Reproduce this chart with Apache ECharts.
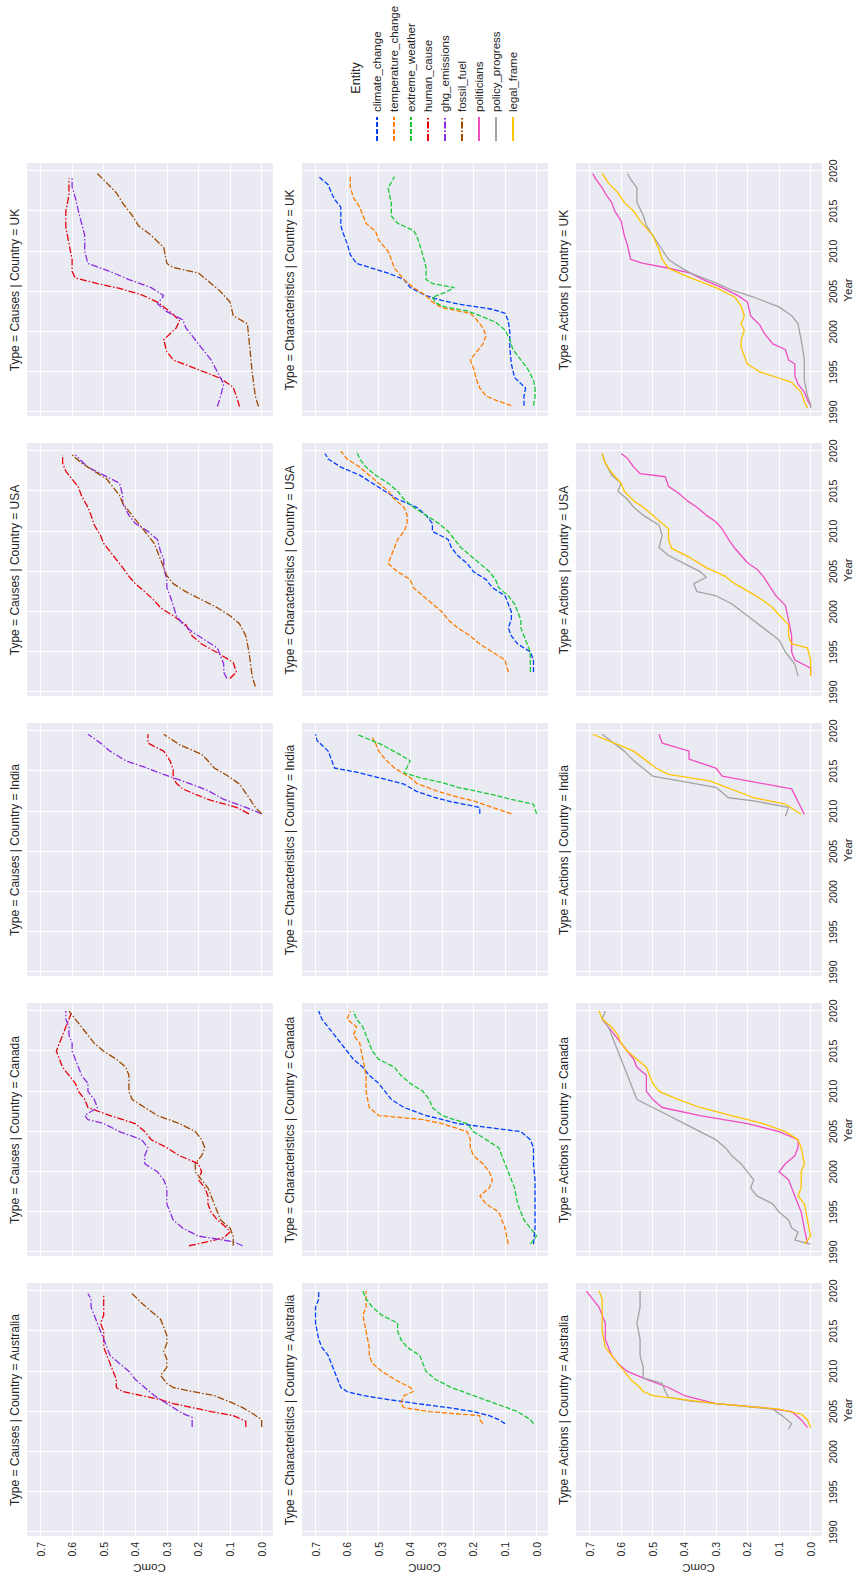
<!DOCTYPE html>
<html>
<head>
<meta charset="utf-8">
<script src="https://cdn.jsdelivr.net/npm/echarts@6/dist/echarts.min.js"></script>
<style>
  html, body { margin: 0; padding: 0; background: #fff; overflow: hidden; width: 857px; height: 1580px; }
  /* the seaborn grid is drawn landscape, then turned a quarter turn to the left like the picture */
  #facet {
    position: absolute; left: 0; top: 0;
    width: 1580px; height: 857px;
    transform-origin: 0 0;
    transform: translateY(1580px) rotate(-90deg);
  }
</style>
</head>
<body>
<div id="facet"></div>
<script>
// facets
var countries = ["Australia", "Canada", "India", "USA", "UK"];
var types = ["Causes", "Characteristics", "Actions"];
var entityNames = ["climate_change", "temperature_change", "extreme_weather",
  "human_cause", "ghg_emissions", "fossil_fuel",
  "politicians", "policy_progress", "legal_frame"];
var entityType = [1, 1, 1, 0, 0, 0, 2, 2, 2];
var entityColors = ["#023eff", "#ff7c00", "#1ac938", "#e8000b", "#8b2be2", "#9f4800", "#f14cc1", "#a3a3a3", "#ffc400"];

// ---- Causes : [year, ComC] ----
var causes_AUS_human = [[2003.1,0.05],[2003.8,0.05],[2004.5,0.09],[2005,0.16],[2005.5,0.22],[2006,0.28],[2006.5,0.32],[2007,0.38],[2007.5,0.44],[2008,0.46],[2009,0.46],[2010,0.47],[2011,0.48],[2012,0.49],[2013,0.5],[2014,0.5],[2015,0.5],[2016,0.51],[2017,0.5],[2018,0.5],[2019,0.5],[2019.7,0.5]];
var causes_AUS_ghg = [[2003.1,0.22],[2004.3,0.22],[2004.6,0.24],[2005,0.26],[2005.5,0.28],[2006,0.3],[2006.5,0.32],[2007,0.34],[2008,0.37],[2009,0.4],[2010,0.42],[2011,0.45],[2012,0.48],[2013,0.49],[2014,0.5],[2015,0.51],[2016,0.52],[2017,0.53],[2018,0.54],[2019,0.54],[2019.7,0.55]];
var causes_AUS_fossil = [[2003.1,0.0],[2004,0.0],[2004.8,0.03],[2005.5,0.06],[2006.2,0.1],[2007,0.15],[2007.5,0.22],[2008,0.28],[2008.5,0.3],[2009.5,0.32],[2010.5,0.3],[2011.5,0.3],[2012.5,0.31],[2013.5,0.3],[2014.5,0.3],[2015.5,0.31],[2016.5,0.32],[2017.5,0.35],[2018.5,0.38],[2019.7,0.41]];

var causes_CAN_human = [[1990.8,0.23],[1991.3,0.17],[1991.8,0.12],[1992.5,0.1],[1993,0.11],[1994,0.14],[1995,0.16],[1996,0.17],[1997,0.17],[1998,0.18],[1999,0.2],[2000,0.19],[2001,0.2],[2002,0.26],[2003,0.3],[2004,0.35],[2005,0.37],[2006,0.4],[2007,0.48],[2008,0.55],[2009,0.56],[2010,0.58],[2011,0.59],[2012,0.61],[2013,0.63],[2014,0.64],[2015,0.65],[2016,0.64],[2017,0.63],[2018,0.62],[2019,0.61],[2020,0.6]];
var causes_CAN_ghg = [[1990.8,0.06],[1991.3,0.09],[1992,0.2],[1993,0.25],[1994,0.28],[1995,0.29],[1996,0.3],[1997,0.3],[1998,0.3],[1999,0.31],[2000,0.33],[2001,0.37],[2002,0.37],[2003,0.36],[2004,0.38],[2005,0.45],[2006,0.5],[2006.5,0.55],[2007,0.56],[2008,0.52],[2009,0.53],[2010,0.55],[2011,0.55],[2012,0.57],[2013,0.58],[2014,0.59],[2015,0.6],[2016,0.6],[2017,0.61],[2018,0.61],[2019,0.62],[2020,0.62]];
var causes_CAN_fossil = [[1990.8,0.09],[1992,0.09],[1993,0.1],[1994,0.13],[1995,0.14],[1997,0.16],[1998,0.17],[1999,0.19],[2000,0.21],[2001,0.21],[2002,0.19],[2003,0.18],[2004,0.19],[2005,0.21],[2006,0.26],[2007,0.33],[2008,0.37],[2009,0.41],[2010,0.42],[2011,0.42],[2012,0.42],[2013,0.43],[2014,0.46],[2015,0.5],[2016,0.53],[2017,0.55],[2018,0.57],[2019,0.59],[2020,0.61]];

var causes_IND_human = [[2009.7,0.04],[2010.5,0.08],[2011.5,0.17],[2012.3,0.22],[2012.8,0.25],[2013.5,0.27],[2014.2,0.28],[2015.2,0.28],[2016.3,0.29],[2017.5,0.31],[2018.5,0.36],[2019.6,0.36]];
var causes_IND_ghg = [[2009.7,0.0],[2010.5,0.05],[2011.5,0.12],[2012.6,0.17],[2013.5,0.23],[2014.6,0.31],[2015.5,0.37],[2016.3,0.43],[2017.5,0.48],[2018.5,0.51],[2019.6,0.55]];
var causes_IND_fossil = [[2009.7,0.0],[2010.5,0.02],[2011.7,0.04],[2013.4,0.07],[2014.5,0.11],[2015.4,0.15],[2016.3,0.17],[2017.1,0.19],[2018.3,0.26],[2019.6,0.31]];

var causes_USA_human = [[1991.7,0.1],[1992.5,0.08],[1993.7,0.09],[1994.9,0.14],[1996,0.19],[1997,0.22],[1998.4,0.24],[1999.5,0.28],[2000.5,0.32],[2001.4,0.34],[2002.5,0.37],[2003.5,0.4],[2004.4,0.42],[2005.5,0.44],[2006.5,0.46],[2007.5,0.48],[2008.5,0.5],[2009.5,0.51],[2010.8,0.53],[2012,0.54],[2013,0.55],[2014.4,0.57],[2015.5,0.58],[2016.5,0.6],[2017.5,0.62],[2018.5,0.63],[2019.5,0.63]];
var causes_USA_ghg = [[1991.7,0.11],[1992.5,0.12],[1993.5,0.12],[1994.5,0.13],[1995.5,0.14],[1996.5,0.18],[1997.5,0.22],[1998.5,0.25],[1999.5,0.27],[2000.8,0.28],[2002,0.29],[2003,0.3],[2004,0.3],[2005.5,0.31],[2006.5,0.31],[2007.5,0.32],[2009,0.33],[2010,0.36],[2011,0.4],[2012,0.42],[2013.5,0.44],[2014.5,0.44],[2016,0.45],[2017,0.5],[2018,0.55],[2019.5,0.59]];
var causes_USA_fossil = [[1990.7,0.02],[1992,0.03],[1993.5,0.035],[1995,0.04],[1997,0.05],[1998.5,0.07],[1999.5,0.1],[2000.5,0.14],[2001.5,0.19],[2002.5,0.24],[2003.5,0.28],[2004.5,0.3],[2005.5,0.31],[2006.5,0.32],[2007.5,0.33],[2008.5,0.34],[2009.5,0.36],[2010.5,0.38],[2011.5,0.4],[2012.5,0.42],[2013.5,0.44],[2014.5,0.45],[2015.5,0.47],[2016.5,0.49],[2017.5,0.53],[2018.5,0.57],[2019.5,0.6]];

var causes_UK_human = [[1990.7,0.07],[1992,0.08],[1993.1,0.09],[1994.2,0.13],[1995.3,0.2],[1996.5,0.28],[1997.5,0.3],[1999,0.31],[2000.5,0.27],[2001.4,0.26],[2002.5,0.29],[2003.7,0.33],[2004.6,0.38],[2005.4,0.45],[2006,0.52],[2006.7,0.59],[2007.5,0.6],[2009,0.6],[2011,0.61],[2013,0.62],[2015,0.62],[2017,0.61],[2019.1,0.61]];
var causes_UK_ghg = [[1990.7,0.14],[1992,0.13],[1993.5,0.12],[1995,0.14],[1996.5,0.16],[1998,0.19],[1999.5,0.22],[2000.5,0.24],[2001.5,0.25],[2002.5,0.3],[2003.5,0.33],[2004.5,0.31],[2005.5,0.35],[2006.5,0.42],[2007.5,0.48],[2008.5,0.55],[2010,0.56],[2012,0.56],[2013.5,0.57],[2015,0.58],[2016.7,0.59],[2018,0.6],[2019.1,0.6]];
var causes_UK_fossil = [[1990.7,0.01],[1992,0.02],[1993.5,0.025],[1995,0.03],[1997,0.035],[1999,0.04],[2001,0.045],[2002,0.09],[2003.7,0.1],[2005,0.13],[2006,0.16],[2007.3,0.2],[2008,0.28],[2008.5,0.3],[2010.5,0.31],[2012,0.35],[2013.2,0.39],[2014.5,0.41],[2016,0.44],[2017.3,0.46],[2018.5,0.49],[2019.7,0.52]];

// ---- Characteristics ----
var char_AUS_climate = [[2003.5,0.1],[2004,0.12],[2004.5,0.15],[2005,0.2],[2005.5,0.28],[2006,0.38],[2006.5,0.47],[2007,0.55],[2007.5,0.6],[2008,0.62],[2009,0.63],[2010,0.64],[2011,0.65],[2012,0.66],[2013,0.68],[2014,0.69],[2016,0.7],[2018,0.7],[2019,0.69],[2020,0.69]];
var char_AUS_temp = [[2003.5,0.17],[2004,0.18],[2004.5,0.18],[2005,0.34],[2005.5,0.42],[2006,0.43],[2007,0.42],[2007.5,0.39],[2008,0.4],[2009,0.45],[2010,0.49],[2011,0.52],[2012,0.53],[2013,0.53],[2015,0.54],[2017,0.55],[2018,0.54],[2020,0.54]];
var char_AUS_extreme = [[2003.5,0.01],[2004,0.02],[2005,0.06],[2006,0.13],[2007,0.2],[2008,0.27],[2009,0.32],[2010,0.35],[2011,0.36],[2012,0.37],[2013,0.41],[2014,0.43],[2015,0.44],[2016,0.44],[2017,0.49],[2018,0.52],[2019,0.54],[2020,0.55]];

var char_CAN_climate = [[1991,0.01],[1993,0.005],[1995,0.005],[1997,0.005],[1999,0.005],[2001,0.01],[2003,0.01],[2004,0.02],[2005,0.05],[2005.5,0.15],[2006,0.25],[2007,0.35],[2008,0.42],[2009,0.46],[2010,0.48],[2011,0.5],[2012,0.53],[2013,0.55],[2014,0.58],[2015,0.6],[2016,0.62],[2017,0.64],[2018,0.66],[2019,0.68],[2020,0.69]];
var char_CAN_temp = [[1991,0.09],[1993,0.1],[1995,0.12],[1996,0.16],[1997,0.18],[1998,0.15],[1999,0.14],[2000,0.15],[2001,0.17],[2002,0.2],[2003,0.21],[2004,0.21],[2005,0.22],[2006,0.3],[2006.5,0.36],[2007,0.5],[2008,0.53],[2010,0.54],[2012,0.54],[2014,0.55],[2016,0.56],[2017,0.58],[2018,0.57],[2019,0.6],[2020,0.59]];
var char_CAN_extreme = [[1991,0.02],[1992,0.0],[1993,0.02],[1994,0.04],[1996,0.06],[1998,0.07],[2000,0.09],[2001,0.1],[2002,0.11],[2003,0.12],[2004,0.16],[2005,0.2],[2006,0.22],[2007,0.3],[2008,0.33],[2009,0.34],[2010,0.36],[2011,0.4],[2012,0.43],[2013,0.45],[2014,0.5],[2015,0.52],[2016,0.53],[2017,0.54],[2018,0.55],[2019,0.57],[2020,0.58]];

var char_IND_climate = [[2009.7,0.18],[2010.5,0.18],[2011.2,0.27],[2011.7,0.32],[2012.5,0.38],[2013.4,0.42],[2014.2,0.5],[2014.8,0.56],[2015.4,0.64],[2016.5,0.65],[2017.5,0.66],[2018.8,0.695],[2019.6,0.7]];
var char_IND_temp = [[2009.7,0.08],[2010.5,0.14],[2011.3,0.2],[2012,0.27],[2012.6,0.32],[2013.5,0.38],[2014.2,0.4],[2015.4,0.45],[2016.5,0.48],[2017.5,0.5],[2018.5,0.51],[2019.2,0.52]];
var char_IND_extreme = [[2009.7,0.0],[2010.9,0.01],[2011.5,0.08],[2012.1,0.14],[2013,0.25],[2013.6,0.3],[2014.2,0.37],[2014.8,0.42],[2015.5,0.41],[2016.3,0.4],[2017,0.43],[2018.3,0.49],[2019.6,0.57]];

var char_USA_climate = [[1992.5,0.01],[1994,0.01],[1995,0.02],[1996,0.06],[1997,0.08],[1998,0.09],[1999,0.08],[2000,0.08],[2001,0.09],[2002,0.1],[2003,0.14],[2004,0.16],[2005,0.2],[2006,0.22],[2007,0.25],[2008,0.27],[2009,0.28],[2010,0.33],[2011,0.33],[2012,0.35],[2013,0.38],[2014,0.44],[2015,0.48],[2016,0.52],[2017,0.56],[2018,0.62],[2019,0.66],[2019.7,0.67]];
var char_USA_temp = [[1992.5,0.09],[1994,0.1],[1995,0.14],[1996,0.18],[1997,0.21],[1998,0.25],[1999,0.28],[2000,0.3],[2001,0.33],[2002,0.36],[2003,0.39],[2004,0.4],[2005,0.44],[2006,0.47],[2007,0.46],[2008,0.45],[2009,0.44],[2010,0.42],[2011,0.41],[2012,0.41],[2013,0.42],[2014,0.45],[2015,0.47],[2016,0.5],[2017,0.53],[2018,0.56],[2019,0.6],[2020,0.62]];
var char_USA_extreme = [[1992.5,0.02],[1994,0.02],[1995,0.02],[1996,0.03],[1997,0.04],[1998,0.05],[1999,0.05],[2000,0.06],[2001,0.07],[2002,0.09],[2003,0.12],[2004,0.13],[2005,0.15],[2006,0.18],[2007,0.21],[2008,0.24],[2009,0.26],[2010,0.28],[2011,0.31],[2012,0.35],[2013,0.39],[2014,0.42],[2015,0.44],[2016,0.47],[2017,0.51],[2018,0.54],[2019,0.56],[2020,0.57]];

var char_UK_climate = [[1990.8,0.04],[1992,0.04],[1993,0.035],[1994.3,0.07],[1996,0.08],[1998,0.085],[2000,0.085],[2001.4,0.09],[2002.3,0.1],[2002.8,0.14],[2003.4,0.24],[2003.9,0.3],[2004.5,0.35],[2005.5,0.4],[2006.5,0.42],[2007.3,0.47],[2007.9,0.52],[2008.5,0.57],[2009.6,0.59],[2011,0.6],[2012,0.61],[2013.2,0.62],[2014.5,0.62],[2015.5,0.62],[2016.5,0.64],[2017.3,0.65],[2018.3,0.66],[2019.3,0.69]];
var char_UK_temp = [[1990.8,0.08],[1991.5,0.13],[1992,0.16],[1993,0.18],[1994,0.19],[1995.5,0.2],[1996.5,0.21],[1997.5,0.19],[1998.5,0.17],[1999.5,0.16],[2000.5,0.17],[2001.5,0.19],[2002.3,0.21],[2003,0.3],[2003.7,0.33],[2004.5,0.35],[2005.5,0.39],[2006.5,0.42],[2007.9,0.45],[2009,0.46],[2010,0.47],[2011.4,0.5],[2012.5,0.51],[2013.5,0.54],[2014.5,0.55],[2015.5,0.56],[2016.7,0.58],[2018,0.59],[2019.3,0.59]];
var char_UK_extreme = [[1990.8,0.01],[1992,0.005],[1993,0.005],[1994,0.01],[1995.5,0.03],[1996.5,0.05],[1997.8,0.075],[1999,0.085],[2000.2,0.1],[2001.2,0.13],[2002,0.18],[2002.6,0.22],[2003.1,0.29],[2003.6,0.32],[2004.3,0.33],[2004.9,0.29],[2005.5,0.26],[2006,0.33],[2006.5,0.35],[2008,0.35],[2009.5,0.36],[2010.8,0.37],[2012,0.38],[2012.6,0.39],[2013.5,0.44],[2014.4,0.46],[2016,0.46],[2017.9,0.47],[2019.3,0.45]];

// ---- Actions ----
var act_AUS_politicians = [[2003,0.01],[2004,0.03],[2005,0.06],[2005.5,0.15],[2006,0.3],[2007,0.4],[2008,0.45],[2009,0.52],[2010,0.58],[2011,0.61],[2012,0.63],[2013,0.64],[2014,0.65],[2016,0.65],[2018,0.67],[2019,0.69],[2020,0.71]];
var act_AUS_policy = [[2002.8,0.07],[2003.5,0.06],[2004.5,0.09],[2005.3,0.12],[2005.8,0.25],[2006.3,0.38],[2006.8,0.45],[2007.5,0.46],[2008.5,0.47],[2009.2,0.53],[2010.5,0.53],[2012,0.54],[2014,0.54],[2016,0.55],[2018,0.54],[2020,0.54]];
var act_AUS_legal = [[2003,0.0],[2004,0.01],[2004.7,0.03],[2005.3,0.1],[2006,0.3],[2006.5,0.4],[2007,0.5],[2007.5,0.53],[2008,0.54],[2009,0.57],[2010,0.59],[2011,0.61],[2012,0.63],[2013,0.65],[2015,0.66],[2017,0.66],[2019,0.66],[2020,0.67]];

var act_CAN_politicians = [[1991,0.01],[1993,0.02],[1995,0.03],[1997,0.05],[1999,0.07],[2000,0.1],[2001,0.08],[2002,0.05],[2003,0.04],[2004,0.04],[2005,0.1],[2006,0.2],[2007,0.35],[2008,0.47],[2009,0.5],[2010,0.52],[2011,0.52],[2012,0.52],[2013,0.55],[2014,0.56],[2015,0.58],[2016,0.6],[2017,0.62],[2018,0.64],[2019,0.66]];
var act_CAN_policy = [[1991,0.0],[1991.5,0.05],[1992.5,0.04],[1993,0.06],[1994,0.07],[1995,0.1],[1996,0.12],[1997,0.17],[1998,0.19],[1999,0.18],[2000,0.2],[2001,0.22],[2002,0.25],[2003,0.27],[2004,0.3],[2005,0.35],[2006,0.4],[2007,0.45],[2008,0.5],[2009,0.55],[2010,0.56],[2011,0.57],[2012,0.58],[2013,0.59],[2014,0.6],[2015,0.61],[2016,0.62],[2017,0.63],[2018,0.64],[2019,0.66],[2020,0.65]];
var act_CAN_legal = [[1991,0.02],[1992,0.0],[1994,0.01],[1996,0.02],[1997,0.04],[1998,0.03],[2000,0.03],[2001,0.02],[2003,0.03],[2004,0.04],[2005,0.08],[2006,0.15],[2007,0.25],[2008,0.35],[2009,0.42],[2010,0.48],[2011,0.5],[2012,0.51],[2013,0.52],[2014,0.55],[2015,0.58],[2016,0.6],[2017,0.61],[2018,0.63],[2019,0.66],[2020,0.67]];

var act_IND_politicians = [[2009.65,0.02],[2012.8,0.06],[2014.4,0.28],[2015.4,0.3],[2016.5,0.385],[2017.5,0.385],[2018.5,0.47],[2019.6,0.48]];
var act_IND_policy = [[2009.4,0.08],[2010.5,0.07],[2011.3,0.18],[2011.7,0.26],[2013,0.3],[2014.4,0.5],[2016.3,0.56],[2017.5,0.59],[2019.6,0.66]];
var act_IND_legal = [[2009.65,0.03],[2010.9,0.08],[2011.7,0.18],[2013.8,0.32],[2014.6,0.45],[2015.4,0.49],[2017.5,0.56],[2018.3,0.61],[2019.6,0.69]];

var act_USA_politicians = [[1992,0.0],[1993,0.0],[1994,0.05],[1995,0.06],[1997,0.06],[1999,0.07],[2000.8,0.08],[2002,0.11],[2003.2,0.13],[2004.4,0.15],[2005.3,0.17],[2006.1,0.2],[2007,0.22],[2007.9,0.24],[2009,0.26],[2010.3,0.28],[2011.2,0.3],[2012,0.33],[2013,0.36],[2013.8,0.39],[2014.8,0.42],[2015.6,0.45],[2016.8,0.46],[2017.2,0.54],[2018,0.56],[2019.1,0.58],[2019.7,0.6]];
var act_USA_policy = [[1992,0.04],[1993.5,0.05],[1995,0.08],[1996.5,0.1],[1998,0.15],[1999.5,0.2],[2001,0.25],[2002,0.3],[2002.5,0.36],[2003.5,0.37],[2004.3,0.33],[2005,0.35],[2006,0.4],[2007,0.45],[2008,0.48],[2009.5,0.47],[2010.8,0.48],[2012,0.53],[2013,0.56],[2014,0.58],[2015,0.61],[2016,0.6],[2017,0.63],[2018.5,0.65],[2019.7,0.66]];
var act_USA_legal = [[1992,0.0],[1994,0.0],[1995.5,0.01],[1996,0.06],[1997,0.07],[1998.4,0.07],[1999.6,0.1],[2000.5,0.12],[2001.4,0.15],[2002.6,0.2],[2003.5,0.24],[2004.4,0.27],[2005.5,0.33],[2006.7,0.38],[2007.9,0.44],[2009,0.45],[2010.3,0.45],[2011,0.47],[2012,0.5],[2013,0.53],[2013.8,0.56],[2015,0.59],[2016,0.6],[2017.3,0.63],[2018.5,0.65],[2019.7,0.66]];

var act_UK_politicians = [[1990.8,0.0],[1991.5,0.01],[1992.5,0.02],[1993.5,0.04],[1994.5,0.05],[1996,0.05],[1996.5,0.07],[1997.8,0.08],[1998.5,0.12],[1999,0.13],[2000,0.15],[2000.8,0.16],[2002,0.19],[2003.7,0.2],[2004.5,0.23],[2005.5,0.28],[2006.5,0.34],[2007.3,0.38],[2008,0.46],[2008.5,0.53],[2009,0.57],[2010.8,0.58],[2012,0.59],[2013.8,0.6],[2015,0.62],[2016.1,0.63],[2017.2,0.65],[2017.9,0.66],[2019,0.68],[2019.7,0.69]];
var act_UK_policy = [[1990.5,0.0],[1991,0.0],[1992,0.01],[1994,0.02],[1996.6,0.02],[1999,0.03],[2001,0.04],[2002,0.06],[2003.1,0.1],[2004.3,0.18],[2005.2,0.25],[2006.1,0.3],[2007.3,0.38],[2008.2,0.42],[2009,0.45],[2010.8,0.48],[2012,0.5],[2013.2,0.52],[2014.5,0.53],[2016.1,0.55],[2017.9,0.55],[2019,0.57],[2019.7,0.58]];
var act_UK_legal = [[1990.5,0.01],[1991.3,0.02],[1992.5,0.03],[1993.7,0.06],[1994.5,0.12],[1995,0.16],[1996,0.2],[1997,0.21],[1998,0.22],[1999,0.22],[2000.2,0.21],[2001,0.22],[2002,0.21],[2003.2,0.22],[2004.3,0.24],[2005.5,0.3],[2006.7,0.38],[2007.9,0.45],[2009,0.47],[2010.2,0.48],[2012,0.5],[2013.8,0.54],[2015,0.56],[2016.1,0.59],[2017.3,0.61],[2018.5,0.64],[2019.7,0.66]];

// panel lookup: [type][country] -> three lines, in the entity order of that type
var panels = [
  [[causes_AUS_human, causes_AUS_ghg, causes_AUS_fossil], [causes_CAN_human, causes_CAN_ghg, causes_CAN_fossil],
   [causes_IND_human, causes_IND_ghg, causes_IND_fossil], [causes_USA_human, causes_USA_ghg, causes_USA_fossil],
   [causes_UK_human, causes_UK_ghg, causes_UK_fossil]],
  [[char_AUS_climate, char_AUS_temp, char_AUS_extreme], [char_CAN_climate, char_CAN_temp, char_CAN_extreme],
   [char_IND_climate, char_IND_temp, char_IND_extreme], [char_USA_climate, char_USA_temp, char_USA_extreme],
   [char_UK_climate, char_UK_temp, char_UK_extreme]],
  [[act_AUS_politicians, act_AUS_policy, act_AUS_legal], [act_CAN_politicians, act_CAN_policy, act_CAN_legal],
   [act_IND_politicians, act_IND_policy, act_IND_legal], [act_USA_politicians, act_USA_policy, act_USA_legal],
   [act_UK_politicians, act_UK_policy, act_UK_legal]]
];
var typeEntities = [["human_cause", "ghg_emissions", "fossil_fuel"],
  ["climate_change", "temperature_change", "extreme_weather"],
  ["politicians", "policy_progress", "legal_frame"]];
var typeDash = [[7, 2, 1.5, 2], [5, 2], "solid"];

// layout of the unrotated facet grid
var gridLefts = [43, 323, 603, 883, 1163];
var gridTops = [26, 301, 575];
var gridW = 254, gridH = 247;
var ink = "#262626";
var font = "Liberation Sans";

var grids = [], xAxes = [], yAxes = [], titles = [], series = [];

for (var t = 0; t < 3; t++) {
  for (var c = 0; c < 5; c++) {
    var g = grids.length;
    grids.push({
      left: gridLefts[c], top: gridTops[t], width: gridW, height: gridH,
      show: true, backgroundColor: "#EAEAF2", borderWidth: 0
    });
    titles.push({
      text: "Type = " + types[t] + " | Country = " + countries[c],
      left: gridLefts[c] + gridW / 2, top: gridTops[t] - 17, textAlign: "center", padding: 0,
      textStyle: { fontSize: 12, fontWeight: "normal", color: ink, fontFamily: font }
    });
    xAxes.push({
      gridIndex: g, type: "value", min: 1989.4, max: 2021.0, splitNumber: 6,
      axisLine: { show: false }, axisTick: { show: false },
      splitLine: { lineStyle: { color: "#ffffff", width: 1 } },
      axisLabel: {
        show: t === 2, color: ink, fontSize: 10.5, fontFamily: font, margin: 5,
        formatter: function (v) { return Math.abs(v - Math.round(v / 5) * 5) < 1e-6 ? String(Math.round(v)) : ""; }
      },
      name: t === 2 ? "Year" : "", nameLocation: "middle", nameGap: 20,
      nameTextStyle: { color: ink, fontSize: 11.5, fontFamily: font }
    });
    yAxes.push({
      gridIndex: g, type: "value", min: -0.036, max: 0.746, splitNumber: 8,
      axisLine: { show: false }, axisTick: { show: false },
      splitLine: { lineStyle: { color: "#ffffff", width: 1 } },
      axisLabel: {
        show: c === 0, color: ink, fontSize: 10.5, fontFamily: font, margin: 5,
        formatter: function (v) { return Math.abs(v * 10 - Math.round(v * 10)) < 1e-6 ? v.toFixed(1) : ""; }
      },
      name: c === 0 ? "ComC" : "", nameLocation: "middle", nameGap: 25,
      nameTextStyle: { color: ink, fontSize: 11.5, fontFamily: font }
    });
  }
}

// series, drawn per entity so the overlap order follows the legend
for (var e = 0; e < entityNames.length; e++) {
  var t2 = entityType[e];
  var k = typeEntities[t2].indexOf(entityNames[e]);
  for (var c2 = 0; c2 < 5; c2++) {
    series.push({
      name: entityNames[e], type: "line",
      xAxisIndex: t2 * 5 + c2, yAxisIndex: t2 * 5 + c2,
      data: panels[t2][c2][k],
      symbol: "none", showSymbol: false, silent: true,
      lineStyle: { color: entityColors[e], width: 1.3, type: typeDash[t2] },
      itemStyle: { color: entityColors[e] }
    });
  }
}

var myChart = echarts.init(document.getElementById("facet"), null, { renderer: "svg", width: 1580, height: 857 });
myChart.setOption({
  animation: false,
  backgroundColor: "#ffffff",
  title: titles,
  grid: grids,
  xAxis: xAxes,
  yAxis: yAxes,
  legend: {
    data: entityNames, orient: "vertical", left: 1433, top: 366,
    itemWidth: 24, itemHeight: 12, itemGap: 5, selectedMode: false,
    itemStyle: { opacity: 0 },
    textStyle: { color: ink, fontSize: 11.5, fontFamily: font }
  },
  graphic: [{
    type: "text", x: 1502, y: 356,
    style: { text: "Entity", fill: ink, fontSize: 12.5, fontFamily: font, textAlign: "center", textVerticalAlign: "middle" }
  }],
  series: series
});
</script>
</body>
</html>
